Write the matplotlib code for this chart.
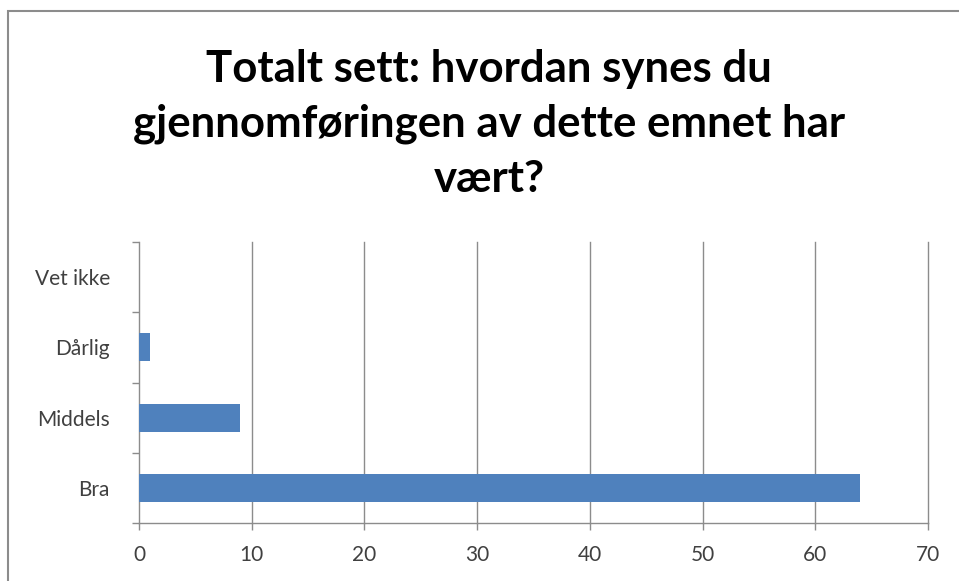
import numpy as np
import matplotlib
matplotlib.use("Agg")
import matplotlib.pyplot as plt
from matplotlib.patches import Rectangle

categories = ["Bra", "Middels", "Dårlig", "Vet ikke"]
values = [64, 9, 1, 0]
x_ticks = [0, 10, 20, 30, 40, 50, 60, 70]
title = "Totalt sett: hvordan synes du\ngjennomføringen av dette emnet har\nvært?"

plt.rcParams['font.family'] = ['Lato', 'DejaVu Sans']

fig = plt.figure(figsize=(9.59, 5.81), dpi=100)
W, H = 959, 581

# chart border (runs off the right and bottom edge like the screenshot)
fig.patches.append(Rectangle((8 / W, -0.1), 1.1, (581 - 11) / H + 0.1,
                             transform=fig.transFigure, fill=False,
                             edgecolor='#8c8c8c', linewidth=1.5))

ax = fig.add_axes([139 / W, 58 / H, 789 / W, 281 / H])
y = np.arange(len(categories))
ax.barh(y, values, height=0.4, color='#4f81bd', linewidth=0, zorder=3)

ax.set_xlim(0, 70)
ax.set_ylim(-0.5, len(categories) - 0.5)
ax.set_xticks(x_ticks)
ax.set_xticklabels([str(t) for t in x_ticks], fontsize=15, color='#404040')
ax.set_yticks(y)
ax.set_yticklabels(categories, fontsize=15, color='#404040')
ax.tick_params(axis='y', length=0, pad=21)
ax.set_yticks(np.arange(-0.5, len(categories)), minor=True)
ax.tick_params(axis='y', which='minor', length=5, color='#8c8c8c', width=1)
ax.tick_params(axis='x', length=5, color='#8c8c8c', width=1, pad=11)

for t in x_ticks[1:]:
    ax.axvline(t, color='#8c8c8c', linewidth=1, zorder=1, clip_on=False)

for s in ['top', 'right']:
    ax.spines[s].set_visible(False)
for s in ['left', 'bottom']:
    ax.spines[s].set_color('#8c8c8c')
    ax.spines[s].set_linewidth(1)

fig.text(489 / W, 1 - 124 / H, title, ha='center', va='center',
         fontsize=31.5, fontweight='bold', linespacing=1.45, color='#000000')

fig.savefig("out.png", dpi=100)
